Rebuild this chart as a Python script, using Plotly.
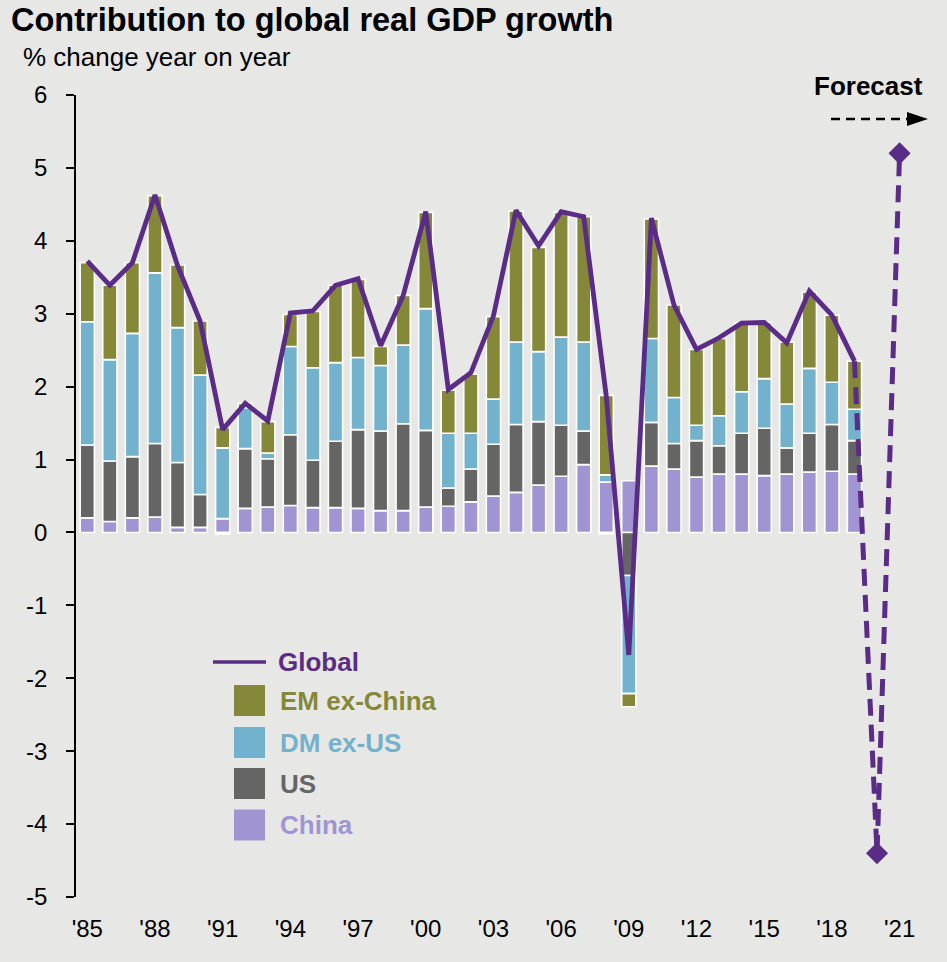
import plotly.graph_objects as go

# ---- data -----------------------------------------------------------------
years = list(range(1985, 2020))

china = [0.20, 0.15, 0.20, 0.21, 0.07, 0.07, 0.19, 0.33, 0.35, 0.37,
         0.34, 0.34, 0.33, 0.30, 0.30, 0.35, 0.36, 0.42, 0.50, 0.55,
         0.65, 0.77, 0.93, 0.69, 0.71, 0.91, 0.87, 0.76, 0.80, 0.80,
         0.78, 0.80, 0.83, 0.84, 0.80]

us = [1.00, 0.83, 0.84, 1.01, 0.89, 0.45, -0.02, 0.82, 0.66, 0.97,
      0.65, 0.91, 1.08, 1.09, 1.19, 1.05, 0.25, 0.45, 0.71, 0.93,
      0.87, 0.70, 0.46, -0.02, -0.59, 0.60, 0.35, 0.50, 0.39, 0.56,
      0.65, 0.36, 0.53, 0.64, 0.46]

dm_ex_us = [1.69, 1.39, 1.69, 2.34, 1.85, 1.64, 0.97, 0.56, 0.08, 1.21,
            1.27, 1.08, 0.99, 0.90, 1.08, 1.67, 0.75, 0.49, 0.62, 1.13,
            0.96, 1.21, 1.22, 0.10, -1.62, 1.15, 0.63, 0.21, 0.41, 0.57,
            0.68, 0.60, 0.89, 0.58, 0.43]

em_ex_china = [0.81, 1.02, 0.97, 1.06, 0.86, 0.74, 0.28, 0.06, 0.43, 0.44,
               0.77, 1.06, 1.07, 0.26, 0.68, 1.32, 0.59, 0.81, 1.13, 1.80,
               1.43, 1.71, 1.72, 1.09, -0.18, 1.64, 1.27, 1.04, 1.06, 0.94,
               0.77, 0.85, 1.05, 0.92, 0.66]

global_growth = [3.72, 3.39, 3.70, 4.63, 3.66, 2.90, 1.41, 1.77, 1.53, 3.01,
                 3.04, 3.39, 3.48, 2.56, 3.25, 4.40, 1.96, 2.19, 2.97, 4.42,
                 3.93, 4.40, 4.33, 1.87, -1.68, 4.31, 3.12, 2.51, 2.67, 2.87,
                 2.88, 2.60, 3.31, 2.98, 2.35]

forecast_years = [2019, 2020, 2021]
forecast_growth = [2.35, -4.4, 5.2]

tick_years = list(range(1985, 2022, 3))
tick_text = ["'" + str(y)[2:] for y in tick_years]
y_ticks = list(range(-5, 7))
y_tick_text = [str(v) for v in y_ticks]   # plain hyphen for negatives

# ---- styling --------------------------------------------------------------
C_CHINA = "#A094D2"
C_US = "#656565"
C_DM = "#73B2CC"
C_EM = "#858838"
C_GLOBAL = "#5A2C87"
BG = "#E7E7E5"
FONT = "Liberation Sans, Arial, sans-serif"

W, H = 947, 962
L, R, T, B = 76, 912, 95, 897          # plot area in pixels
X_RANGE = [1984.5, 2021.55]
Y_RANGE = [-5, 6]


def px(x):
    return (x - L) / (R - L)


def py(y):
    return (B - y) / (B - T)


fig = go.Figure()

for name, vals, col in [("China", china, C_CHINA), ("US", us, C_US),
                        ("DM ex-US", dm_ex_us, C_DM),
                        ("EM ex-China", em_ex_china, C_EM)]:
    fig.add_trace(go.Bar(
        x=years, y=vals, name=name, width=0.63,
        marker=dict(color=col, line=dict(color="white", width=1.6)),
        showlegend=False,
    ))

fig.add_trace(go.Scatter(
    x=years, y=global_growth, name="Global", mode="lines",
    line=dict(color=C_GLOBAL, width=4.8), showlegend=False,
))

fig.add_trace(go.Scatter(
    x=forecast_years, y=forecast_growth, name="Global forecast",
    mode="lines+markers",
    line=dict(color=C_GLOBAL, width=5, dash="17px,9px"),
    marker=dict(symbol="diamond", size=[0, 17, 17], color=C_GLOBAL,
                opacity=1, line=dict(width=0)),
    showlegend=False,
))

zero_pos = (0 - Y_RANGE[0]) / (Y_RANGE[1] - Y_RANGE[0])

fig.update_layout(
    width=W, height=H,
    margin=dict(l=L, r=W - R, t=T, b=H - B, pad=0),
    paper_bgcolor=BG, plot_bgcolor=BG,
    barmode="relative", bargap=0.37,
    font=dict(family=FONT, color="black", size=24),
    xaxis=dict(
        range=X_RANGE, tickmode="array", tickvals=tick_years,
        ticktext=tick_text, ticks="", showline=False, showgrid=False,
        zeroline=False, tickfont=dict(size=24), ticklabelstandoff=15,
    ),
    xaxis2=dict(
        range=X_RANGE, overlaying="x", anchor="free", position=zero_pos,
        side="bottom", tickmode="array",
        tickvals=[y - 0.5 for y in tick_years], ticks="outside",
        ticklen=7, tickwidth=1.5, tickcolor="black",
        showticklabels=False, showline=True, linecolor="black",
        linewidth=2, showgrid=False, zeroline=False,
    ),
    yaxis=dict(
        range=Y_RANGE, tickmode="array", tickvals=y_ticks,
        ticktext=y_tick_text,
        ticks="outside", ticklen=8, tickwidth=1.5, tickcolor="black",
        showline=True, linecolor="black", linewidth=1.5,
        showgrid=False, zeroline=False, tickfont=dict(size=24),
        ticklabelstandoff=14,
    ),
)

shapes = []
annotations = []

# title and subtitle
annotations.append(dict(
    text="<b>Contribution to global real GDP growth</b>", xref="paper",
    yref="paper", x=px(9), y=py(20), xanchor="left", yanchor="middle",
    showarrow=False, font=dict(size=32.5, color="black")))
annotations.append(dict(
    text="% change year on year", xref="paper", yref="paper",
    x=px(21), y=py(57), xanchor="left", yanchor="middle",
    showarrow=False, font=dict(size=26, color="black")))

# forecast marker: label and dashed arrow
annotations.append(dict(
    text="<b>Forecast</b>", xref="paper", yref="paper", x=px(925),
    y=py(86), xanchor="right", yanchor="middle", showarrow=False,
    font=dict(size=26, color="black")))
shapes.append(dict(
    type="line", xref="paper", yref="paper", x0=px(831), x1=px(909),
    y0=py(119), y1=py(119), line=dict(color="black", width=2.5,
                                      dash="9px,6px")))
shapes.append(dict(
    type="path", xref="paper", yref="paper", fillcolor="black",
    line=dict(width=0),
    path=(f"M {px(907)} {py(112)} L {px(928)} {py(119)} "
          f"L {px(907)} {py(126)} Z")))

# legend
shapes.append(dict(
    type="line", xref="paper", yref="paper", x0=px(213), x1=px(266),
    y0=py(662), y1=py(662), line=dict(color=C_GLOBAL, width=3.5)))
annotations.append(dict(
    text="<b>Global</b>", xref="paper", yref="paper", x=px(276),
    y=py(662), xanchor="left", yanchor="middle", showarrow=False,
    font=dict(size=26, color=C_GLOBAL)))

legend_rows = [("EM ex-China", C_EM, 700.5), ("DM ex-US", C_DM, 742.5),
               ("US", C_US, 783.5), ("China", C_CHINA, 825)]
for label, col, cy in legend_rows:
    shapes.append(dict(
        type="rect", xref="paper", yref="paper", x0=px(234), x1=px(265),
        y0=py(cy - 15.5), y1=py(cy + 15.5), fillcolor=col,
        line=dict(width=0)))
    annotations.append(dict(
        text=f"<b>{label}</b>", xref="paper", yref="paper", x=px(278),
        y=py(cy), xanchor="left", yanchor="middle", showarrow=False,
        font=dict(size=26, color=col)))

fig.update_layout(shapes=shapes, annotations=annotations)

fig.write_html("out.html")
